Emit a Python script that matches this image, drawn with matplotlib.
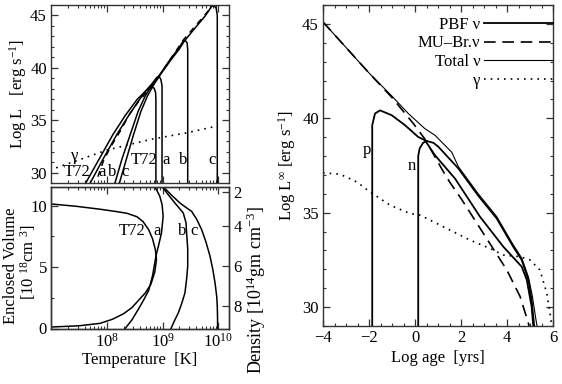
import numpy as np
import matplotlib
matplotlib.use("Agg")
import matplotlib.pyplot as plt
from matplotlib.ticker import (MultipleLocator, LogLocator, NullFormatter, FixedLocator,
                               LogFormatterSciNotation)

plt.rcParams['font.family'] = ['Liberation Serif', 'DejaVu Serif']
plt.rcParams['mathtext.fontset'] = 'custom'
plt.rcParams['mathtext.rm'] = 'Liberation Serif'
plt.rcParams['mathtext.it'] = 'Liberation Serif:italic'
plt.rcParams['mathtext.bf'] = 'Liberation Serif:bold'
plt.rcParams['font.size'] = 12

# ---------------- Upper-left panel: Log L vs log T ----------------
t72_logT = [7.59, 7.63, 7.88, 8.11, 8.33, 8.54, 8.70, 8.81, 8.85, 8.875, 8.88, 8.88]
t72_L    = [28.79, 29.07, 31.45, 33.63, 35.44, 36.96, 37.81, 38.16, 38.05, 37.62, 36.96, 28.5]
a_logT = [7.68, 7.71, 7.95, 8.18, 8.38, 8.56, 8.70, 8.81, 8.90, 8.95, 8.97, 8.99, 8.99]
a_L    = [28.79, 29.07, 31.45, 33.63, 35.34, 36.77, 37.81, 38.48, 39.11, 39.09, 38.86, 38.29, 28.5]
b_logT = [8.12, 8.15, 8.27, 8.42, 8.56, 8.69, 8.81, 8.96, 9.13, 9.28, 9.37, 9.41, 9.44, 9.45, 9.45]
b_L    = [28.79, 29.07, 31.26, 33.63, 35.82, 37.33, 38.38, 39.43, 40.76, 41.80, 42.56, 42.60, 42.37, 41.70, 28.5]
c_logT = [8.20, 8.23, 8.35, 8.48, 8.61, 8.73, 8.84, 8.97, 9.15, 9.30, 9.39, 9.58, 9.76, 9.88, 9.92, 9.96, 9.98, 9.98]
c_L    = [28.79, 29.07, 31.26, 33.63, 35.82, 37.33, 38.38, 39.43, 40.76, 41.80, 42.56, 43.79, 44.93, 45.88, 45.95, 45.69, 45.03, 28.5]
dash_logT = [7.84, 7.94, 8.06, 8.24, 8.42, 8.57, 8.78, 8.96, 9.37, 9.89]
dash_L    = [29.6, 31.1, 32.37, 33.95, 35.69, 36.79, 38.10, 39.38, 42.65, 45.88]
gam_logT = [6.98, 8.00, 8.78, 9.43, 9.96]
gam_L    = [30.24, 32.14, 33.16, 33.79, 34.42]

# ---------------- Lower-left panel: enclosed volume vs Tc ----------------
vt72_logT = [7.0, 7.45, 7.88, 8.2, 8.36, 8.54, 8.65, 8.75, 8.82, 8.87, 8.89, 8.86, 8.79, 8.69, 8.60, 8.45, 8.30, 8.10, 7.88, 7.5, 7.0]
vt72_V    = [10.14, 9.95, 9.71, 9.5, 9.38, 9.1, 8.7, 8.05, 7.3, 6.42, 5.6, 4.6, 3.6, 2.89, 2.45, 1.7, 1.2, 0.75, 0.42, 0.22, 0.12]
va_logT = [8.33, 8.45, 8.57, 8.67, 8.75, 8.82, 8.88, 8.94, 8.98, 9.01, 8.99, 8.95, 8.89, 8.83]
va_V    = [0.0, 0.7, 1.6, 2.4, 3.1, 4.3, 5.88, 7.0, 7.78, 9.14, 10.1, 10.77, 11.3, 11.7]
vb_logT = [8.98, 9.10, 9.22, 9.37, 9.42, 9.43, 9.45, 9.45, 9.43, 9.40, 9.34, 9.28, 9.21, 9.15]
vb_V    = [11.6, 10.9, 10.22, 9.41, 8.6, 7.78, 6.5, 5.07, 4.0, 2.89, 2.0, 1.26, 0.6, 0.0]
vc_logT = [9.00, 9.15, 9.31, 9.42, 9.52, 9.61, 9.70, 9.78, 9.85, 9.90, 9.94, 9.97, 9.98, 9.985, 9.985]
vc_V    = [11.6, 10.9, 10.22, 9.85, 9.54, 8.9, 8.05, 7.0, 5.88, 4.8, 3.7, 2.6, 1.81, 0.8, 0.0]
temp_ticks = [1e8, 1e9, 1e10]
dens_labels = ['2', '4', '6', '8']
dens_tick_V = [11.09, 8.32, 5.07, 1.86]

# ---------------- Right panel: luminosities vs log age ----------------
total_age = [-4.0, -3.0, -2.0, -1.03, -0.29, 0.43, 0.87, 1.30, 1.60, 1.88, 2.75, 3.55, 4.27, 4.64, 4.93, 5.10, 5.25, 5.32]
total_L   = [45.1, 43.75, 42.4, 41.21, 40.25, 39.45, 39.10, 38.57, 38.2, 37.45, 36.0, 34.8, 33.3, 32.6, 31.6, 30.6, 29.4, 28.9]
p_age = [-1.86, -1.86, -1.74, -1.52, -1.01, -0.43, 0.14, 0.43, 0.87, 1.74, 2.83, 3.84, 4.64, 4.86, 5.07, 5.14, 5.16]
p_L   = [28.5, 39.63, 40.25, 40.42, 40.16, 39.63, 39.01, 38.84, 38.04, 36.81, 34.78, 33.2, 32.14, 31.44, 30.03, 29.06, 28.7]
n_age = [0.14, 0.14, 0.2, 0.35, 0.51, 0.8, 1.01, 1.88, 2.75, 3.55, 4.27, 4.64, 4.93, 5.07, 5.17, 5.20]
n_L   = [28.5, 38.0, 38.4, 38.7, 38.8, 38.7, 38.5, 37.35, 35.9, 34.7, 33.2, 32.5, 31.44, 30.38, 29.15, 28.8]
mu_age = [-4.0, -3.0, -2.0, -1.0, -0.07, 0.43, 1.22, 1.52, 2.03, 2.97, 3.99, 4.57, 4.93, 5.0]
mu_L   = [45.1, 43.75, 42.4, 41.1, 39.72, 38.9, 37.2, 36.6, 35.7, 33.91, 31.97, 30.56, 29.15, 28.8]
gam_age = [-4.0, -3.26, -2.53, -1.96, -1.74, -1.09, -0.22, 0.22, 0.8, 1.52, 2.39, 3.26, 3.84, 4.57, 5.0, 5.43, 5.73, 5.87, 5.94]
gam2_L  = [37.11, 37.04, 36.63, 36.1, 35.93, 35.4, 34.96, 34.87, 34.52, 34.08, 33.55, 33.11, 32.76, 32.67, 32.5, 31.97, 30.74, 29.68, 29.06]

legend_labels = ['PBF ν', 'MU–Br.ν', 'Total ν', 'γ']

fig = plt.figure(figsize=(5.62, 3.84), dpi=100)
W, H = 562.0, 384.0
ax1 = fig.add_axes([51/W, 1-183/H, 178/W, 178/H])
ax2 = fig.add_axes([51/W, 1-328.5/H, 178/W, 141.5/H], sharex=ax1)
ax3 = fig.add_axes([323/W, 1-326/H, 230/W, 321/H])

LW = 1.1
dotted = (0, (1, 3))

def style(ax, right=True):
    for s in ax.spines.values():
        s.set_linewidth(1.0)
        s.set_color('#333333')
    ax.tick_params(which='both', direction='in', top=True, right=right, labelsize=12,
                   color='#333333', pad=3)
    ax.tick_params(which='major', length=5, width=0.9)
    ax.tick_params(which='minor', length=2.5, width=0.8)

# Upper-left
T = lambda v: 10 ** np.asarray(v)
ax1.plot(T(t72_logT), t72_L, 'k-', lw=LW)
ax1.plot(T(a_logT), a_L, 'k-', lw=LW)
ax1.plot(T(b_logT), b_L, 'k-', lw=LW)
ax1.plot(T(c_logT), c_L, 'k-', lw=LW)
ax1.plot(T(dash_logT), dash_L, 'k', lw=LW, dashes=(4, 3.5))
ax1.plot(T(gam_logT), gam_L, 'k', lw=1.2, linestyle=dotted)
ax1.set_xscale('log')
ax1.set_xlim(1e7, 10 ** 10.19)
ax1.set_ylim(29, 46)
ax1.yaxis.set_major_locator(MultipleLocator(5))
ax1.yaxis.set_minor_locator(MultipleLocator(1))
ax1.xaxis.set_major_locator(FixedLocator(temp_ticks))
ax1.xaxis.set_major_formatter(LogFormatterSciNotation())
ax1.xaxis.set_minor_locator(LogLocator(base=10, subs=np.arange(2, 10), numticks=20))
ax1.xaxis.set_minor_formatter(NullFormatter())
style(ax1)
ax1.tick_params(labelbottom=False)
ax1.set_ylabel('Log L   [erg s$^{-1}$]', fontsize=12)
ax1.yaxis.set_label_coords(-(51 - 29) / 178, 0.5)

for txt, lx, ly in [('γ', 7.43, 31.57), ('T72', 7.46, 30.05), ('a', 7.91, 30.05),
                    ('b', 8.09, 30.05), ('c', 8.32, 30.05), ('T72', 8.66, 31.19),
                    ('a', 9.06, 31.19), ('b', 9.36, 31.19), ('c', 9.89, 31.19)]:
    ax1.text(10 ** lx, ly, txt, ha='center', va='center', fontsize=12)

# Lower-left
ax2.plot(T(vt72_logT), vt72_V, 'k-', lw=LW)
ax2.plot(T(va_logT), va_V, 'k-', lw=LW)
ax2.plot(T(vb_logT), vb_V, 'k-', lw=LW)
ax2.plot(T(vc_logT), vc_V, 'k-', lw=LW)
ax2.set_ylim(0, 11.52)
ax2.yaxis.set_major_locator(MultipleLocator(5))
ax2.yaxis.set_minor_locator(MultipleLocator(2.5))
style(ax2, right=False)
ax2.set_xlabel('Temperature  [K]', fontsize=12, labelpad=1)
fig.text(11 / W, 1 - 266 / H, 'Enclosed Volume', rotation=90, ha='center', va='center', fontsize=12)
fig.text(28 / W, 1 - 262 / H, '[10 $^{18}$cm $^{3}$]', rotation=90, ha='center', va='center', fontsize=12)
for txt, lx, ly in [('T72', 8.45, 7.9), ('a', 8.90, 7.9), ('b', 9.35, 7.9), ('c', 9.56, 7.9)]:
    ax2.text(10 ** lx, ly, txt, ha='center', va='center', fontsize=12)

ax2r = ax2.twinx()
ax2r.set_ylim(ax2.get_ylim())
ax2r.yaxis.set_major_locator(FixedLocator(dens_tick_V))
ax2r.set_yticklabels(dens_labels)
for s in ax2r.spines.values():
    s.set_linewidth(1.0)
    s.set_color('#333333')
ax2r.tick_params(direction='in', length=5, width=0.9, labelsize=12, color='#333333', pad=3)
ax2r.set_ylabel('Density [10$^{14}$gm cm$^{-3}$]', fontsize=13)
ax2r.yaxis.set_label_coords((245 - 51) / 178, (328.5 - 290) / 141.5)

# Right panel
l_pbf, = ax3.plot(p_age, p_L, 'k-', lw=1.3)
ax3.plot(n_age, n_L, 'k-', lw=1.3)
l_mu, = ax3.plot(mu_age, mu_L, 'k', lw=1.2, dashes=(7, 4))
l_tot, = ax3.plot(total_age, total_L, 'k-', lw=0.8)
l_gam, = ax3.plot(gam_age, gam2_L, 'k', lw=1.2, linestyle=dotted)
ax3.set_xlim(-4, 6)
ax3.set_ylim(29, 46)
ax3.xaxis.set_major_locator(MultipleLocator(2))
ax3.xaxis.set_minor_locator(MultipleLocator(0.5))
ax3.yaxis.set_major_locator(MultipleLocator(5))
ax3.yaxis.set_minor_locator(MultipleLocator(1))
style(ax3)
ax3.set_xlabel('Log age  [yrs]', fontsize=12, labelpad=3)
ax3.set_ylabel('Log L$^{\\infty}$ [erg s$^{-1}$]', fontsize=12)
ax3.yaxis.set_label_coords(-(323 - 298) / 230, 0.5)
ax3.text(-2.1, 38.3, 'p', ha='center', va='center', fontsize=12)
ax3.text(-0.14, 37.5, 'n', ha='center', va='center', fontsize=12)

leg_handles = [l_pbf, l_mu, l_tot, l_gam]
fs_px = 12 * 100 / 72.0
ax3.legend(leg_handles, legend_labels, loc='upper right', frameon=False, markerfirst=False,
           handlelength=4.15, handletextpad=0.2, labelspacing=0.16, borderaxespad=0.0,
           borderpad=0.4, fontsize=12,
           bbox_to_anchor=(1 + 0.4 * fs_px / 230, 1 - 5 / 321))

fig.savefig('out.png', dpi=100)
